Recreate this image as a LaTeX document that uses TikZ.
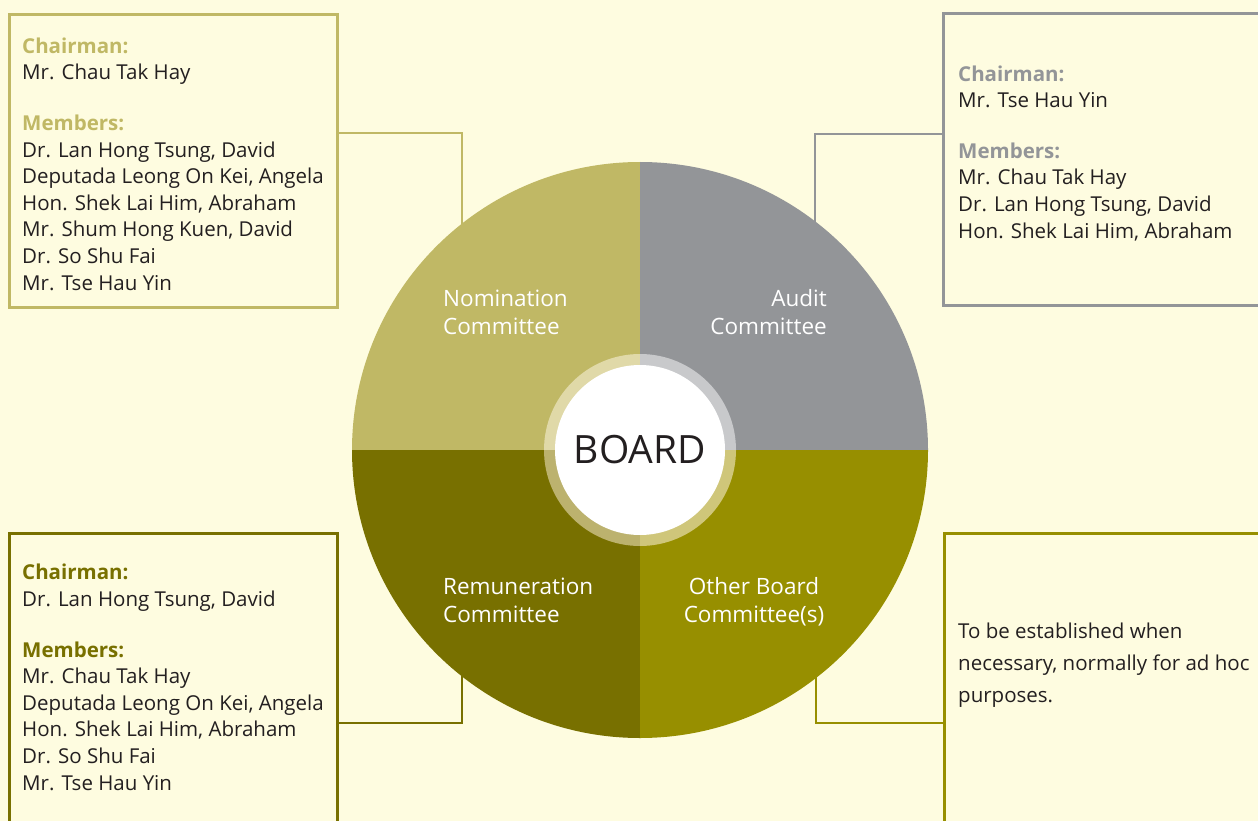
\documentclass[tikz,border=0pt]{standalone}
\usepackage{fontspec}
\setmainfont{Open Sans}
\definecolor{bg}{HTML}{FEFCE0}
\definecolor{nom}{HTML}{C0B865}
\definecolor{aud}{HTML}{939598}
\definecolor{rem}{HTML}{787000}
\definecolor{oth}{HTML}{978F00}
\definecolor{nomring}{HTML}{E0D9A8}
\definecolor{audring}{HTML}{C8C9CB}
\definecolor{remring}{HTML}{BCB26E}
\definecolor{othring}{HTML}{CFC67A}
\definecolor{ink}{HTML}{231F20}
\begin{document}
\begin{tikzpicture}[x=1pt,y=1pt,
  infobox/.style={draw, line width=2.6pt, fill=none, anchor=north west, inner sep=0pt},
  link/.style={line width=2.6pt},
  infotext/.style={anchor=base west, align=left, inner sep=0pt, text=ink,
    font=\fontsize{20.5}{26.6}\selectfont},
  qlabel/.style={inner sep=0pt, text=white, font=\fontsize{22.5}{28}\selectfont}
]
\useasboundingbox (0,0) rectangle (1258,-821);
\clip (0,0) rectangle (1258,-821);
\fill[bg] (0,0) rectangle (1258,-821);

% boxes
\node[infobox, draw=nom, minimum width=328pt, minimum height=293pt] (nombox) at (8,-13) {};
\node[infobox, draw=aud, minimum width=340pt, minimum height=292pt] (audbox) at (942,-12) {};
\node[infobox, draw=rem, minimum width=328pt, minimum height=320pt] (rembox) at (8,-532) {};
\node[infobox, draw=oth, minimum width=340pt, minimum height=320pt] (othbox) at (943,-532) {};

% connector ends (hidden under the disc)
\coordinate (nomend) at (462,-300);
\coordinate (audend) at (815,-300);
\coordinate (remend) at (462,-600);
\coordinate (othend) at (816,-600);

\draw[link, nom] (nombox.east |- 0,-133) -| (nomend);
\draw[link, aud] (audbox.west |- 0,-134) -| (audend);
\draw[link, rem] (rembox.east |- 0,-723) -| (remend);
\draw[link, oth] (othbox.west |- 0,-723) -| (othend);

% disc
\coordinate (C) at (640,-450);
\fill[nom] (C) -- ++(180:288) arc (180:90:288) -- cycle;
\fill[aud] (C) -- ++(90:288) arc (90:0:288) -- cycle;
\fill[rem] (C) -- ++(180:288) arc (180:270:288) -- cycle;
\fill[oth] (C) -- ++(270:288) arc (270:360:288) -- cycle;
\fill[nomring] (C) -- ++(180:96) arc (180:90:96) -- cycle;
\fill[audring] (C) -- ++(90:96) arc (90:0:96) -- cycle;
\fill[remring] (C) -- ++(180:96) arc (180:270:96) -- cycle;
\fill[othring] (C) -- ++(270:96) arc (270:360:96) -- cycle;
\node[circle, fill=white, minimum size=170pt, inner sep=0pt, text=ink,
  font=\fontsize{39}{39}\selectfont] (board) at (C) {BOARD};

% quadrant labels (anchored at the baseline of the last line)
\node[qlabel, anchor=base west, align=left] (nomlabel) at (443,-334) {Nomination\\Committee};
\node[qlabel, anchor=base east, align=right] (audlabel) at (827,-334) {Audit\\Committee};
\node[qlabel, anchor=base west, align=left] (remlabel) at (443,-622) {Remuneration\\Committee};
\node[qlabel, anchor=base, align=center] (othlabel) at (754,-622) {Other Board\\Committee(s)};

% box texts (anchored at the baseline of the last line)
\node[infotext] (nomtext) at (22,-290) {{\bfseries\color{nom}Chairman:}\\
Mr. Chau Tak Hay\\[24pt]
{\bfseries\color{nom}Members:}\\
Dr. Lan Hong Tsung, David\\
Deputada Leong On Kei, Angela\\
Hon. Shek Lai Him, Abraham\\
Mr. Shum Hong Kuen, David\\
Dr. So Shu Fai\\
Mr. Tse Hau Yin};

\node[infotext] (audtext) at (958,-238) {{\bfseries\color{aud}Chairman:}\\
Mr. Tse Hau Yin\\[24pt]
{\bfseries\color{aud}Members:}\\
Mr. Chau Tak Hay\\
Dr. Lan Hong Tsung, David\\
Hon. Shek Lai Him, Abraham};

\node[infotext] (remtext) at (22,-790) {{\bfseries\color{rem}Chairman:}\\
Dr. Lan Hong Tsung, David\\[24pt]
{\bfseries\color{rem}Members:}\\
Mr. Chau Tak Hay\\
Deputada Leong On Kei, Angela\\
Hon. Shek Lai Him, Abraham\\
Dr. So Shu Fai\\
Mr. Tse Hau Yin};

\node[infotext, font=\fontsize{20.5}{32}\selectfont] (othtext) at (958,-702) {To be established when\\
necessary, normally for ad hoc\\
purposes.};
\end{tikzpicture}
\end{document}
